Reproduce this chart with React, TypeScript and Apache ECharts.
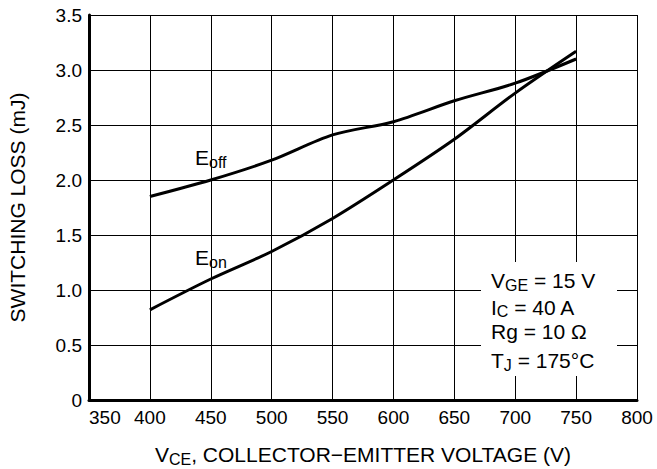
import React, { useEffect, useRef } from "react";
import * as echarts from "echarts";

const vce = [400, 450, 500, 550, 600, 650, 700, 750];
const eoff = [1.85, 2.0, 2.18, 2.41, 2.53, 2.72, 2.88, 3.1];
const eon = [0.82, 1.1, 1.35, 1.65, 2.0, 2.37, 2.79, 3.17];
const conditions = [
  ["V", "GE", " = 15 V"],
  ["I", "C", " = 40 A"],
  ["Rg = 10 Ω", "", ""],
  ["T", "J", " = 175°C"],
];

const FONT = "'Liberation Sans', Arial, Helvetica, sans-serif";
const FS = 19;
const FT = 21;

export default function App() {
  const ref = useRef<HTMLDivElement>(null);
  useEffect(() => {
    if (!ref.current) return;
    const chart = echarts.init(ref.current, null, { renderer: "svg" });
    const rich = {
      a: { fontSize: FT, fontFamily: FONT, color: "#000" },
      s: { fontSize: 16, fontFamily: FONT, color: "#000", padding: [9, 0, 0, 0] },
    };
    const gridLeft = 89, gridTop = 15, gridRight = 637, gridBottom = 400;
    chart.setOption({
      animation: false,
      backgroundColor: "#fff",
      textStyle: { fontFamily: FONT },
      grid: {
        left: gridLeft,
        top: gridTop,
        right: 657 - gridRight,
        bottom: 469 - gridBottom,
        containLabel: false,
        outerBoundsMode: "none",
      },
      xAxis: {
        type: "value",
        min: 350,
        max: 800,
        interval: 50,
        axisLine: { show: true, lineStyle: { color: "#000", width: 3 } },
        axisTick: { show: false },
        splitLine: { show: true, lineStyle: { color: "#000", width: 1 } },
        axisLabel: {
          color: "#000",
          fontSize: FS,
          fontFamily: FONT,
          margin: 8,
          alignMinLabel: "left",
          alignMaxLabel: "center",
        },
        name: "{a|V}{s|CE}{a|, COLLECTOR−EMITTER VOLTAGE (V)}",
        nameLocation: "middle",
        nameGap: 42,
        nameTextStyle: { rich },
      },
      yAxis: {
        type: "value",
        min: 0,
        max: 3.5,
        interval: 0.5,
        axisLine: { show: true, lineStyle: { color: "#000", width: 3 } },
        axisTick: { show: false },
        splitLine: { show: true, lineStyle: { color: "#000", width: 1 } },
        axisLabel: {
          color: "#000",
          fontSize: FS,
          fontFamily: FONT,
          margin: 7,
          formatter: (v: number) => (v === 0 ? "0" : v.toFixed(1)),
        },
        name: "SWITCHING LOSS (mJ)",
        nameLocation: "middle",
        nameGap: 61,
        nameTextStyle: { color: "#000", fontSize: FT, fontFamily: FONT },
      },
      graphic: [
        {
          type: "rect",
          shape: { x: 481, y: 262, width: 136, height: 114 },
          style: { fill: "#fff" },
          z: 10,
        },
        ...conditions.map((c, i) => ({
          type: "text",
          x: 491,
          y: 285 - 17 + i * 26.7,
          z: 11,
          style: {
            text: c[1] ? `{a|${c[0]}}{s|${c[1]}}{a|${c[2]}}` : `{a|${c[0]}}`,
            rich,
            fill: "#000",
          },
        })),
        {
          type: "text",
          x: 195,
          y: 145,
          z: 11,
          style: { text: "{a|E}{s|off}", rich, fill: "#000" },
        },
        {
          type: "text",
          x: 195,
          y: 245,
          z: 11,
          style: { text: "{a|E}{s|on}", rich, fill: "#000" },
        },
      ],
      series: [
        {
          name: "Eoff",
          type: "line",
          data: vce.map((x, i) => [x, eoff[i]]),
          smooth: 0.3,
          showSymbol: false,
          lineStyle: { color: "#000", width: 3 },
          z: 5,
        },
        {
          name: "Eon",
          type: "line",
          data: vce.map((x, i) => [x, eon[i]]),
          smooth: 0.3,
          showSymbol: false,
          lineStyle: { color: "#000", width: 3 },
          z: 5,
        },
      ],
    });
    return () => chart.dispose();
  }, []);
  return (
    <div
      ref={ref}
      style={{ position: "absolute", left: 0, top: 0, width: 657, height: 469 }}
    />
  );
}
